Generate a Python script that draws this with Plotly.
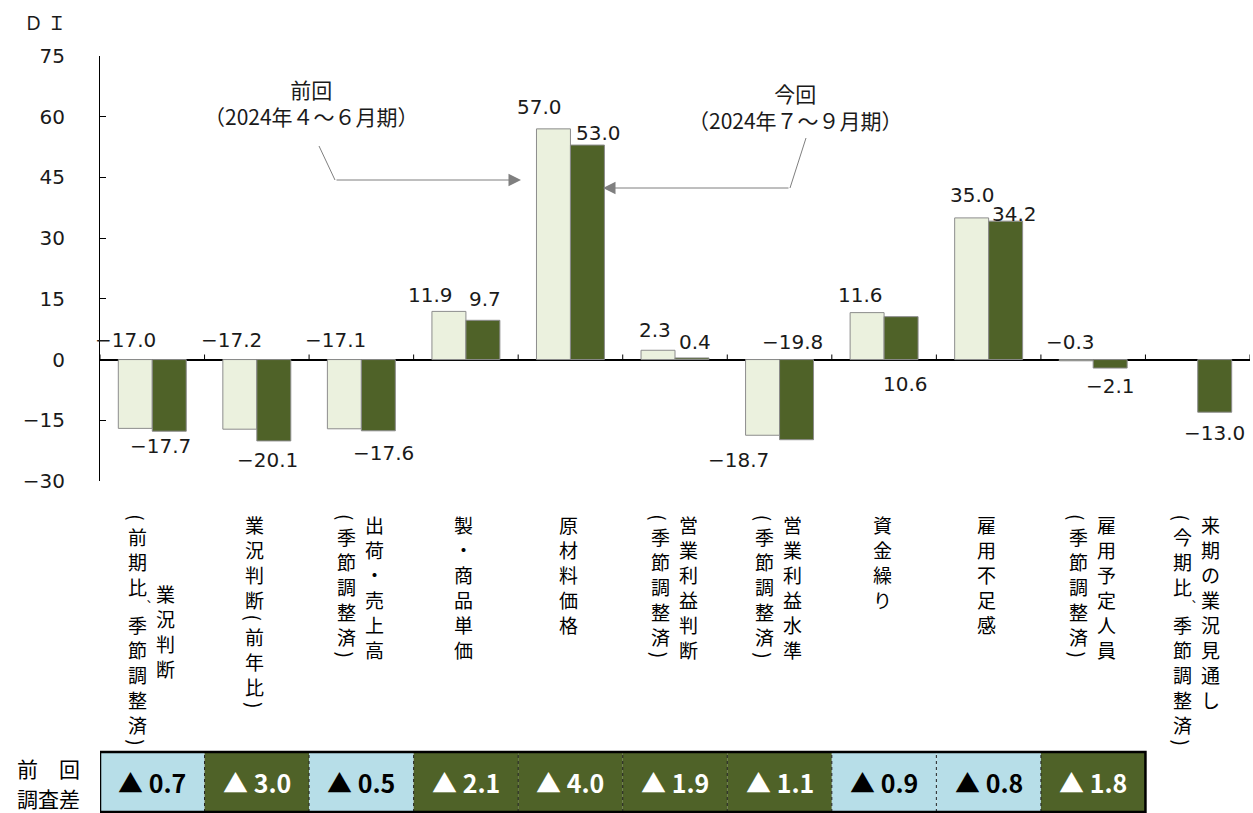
import plotly.graph_objects as go

# ---- data -------------------------------------------------------------
# "\n" separates the vertical columns of each category label (right column first)
CATEGORIES = [
    "業況判断\n（前期比、季節調整済）",
    "業況判断（前年比）",
    "出荷・売上高\n（季節調整済）",
    "製・商品単価",
    "原材料価格",
    "営業利益判断\n（季節調整済）",
    "営業利益水準\n（季節調整済）",
    "資金繰り",
    "雇用不足感",
    "雇用予定人員\n（季節調整済）",
    "来期の業況見通し\n（今期比、季節調整済）",
]
PREV_DI = [-17.0, -17.2, -17.1, 11.9, 57.0, 2.3, -18.7, 11.6, 35.0, -0.3, None]
CURR_DI = [-17.7, -20.1, -17.6, 9.7, 53.0, 0.4, -19.8, 10.6, 34.2, -2.1, -13.0]
DIFF_FROM_PREV = [-0.7, -3.0, -0.5, -2.1, -4.0, -1.9, -1.1, -0.9, -0.8, -1.8]
PREV_TITLE = ["前回", "（2024年４～６月期）"]
CURR_TITLE = ["今回", "（2024年７～９月期）"]
Y_TICKS = [-30, -15, 0, 15, 30, 45, 60, 75]
Y_TITLE = "Ｄ Ｉ"
TABLE_TITLE = ["前　回", "調査差"]

# ---- styling ----------------------------------------------------------
FONT = "Noto Sans CJK JP"
NUM_FONT = "DejaVu Sans"
PREV_COLOR = "#ebf1de"
CURR_COLOR = "#4f6228"
EDGE_COLOR = "#8c8c8c"
LIGHT_CELL = "#b7dee8"
TEXT = "#1a1a1a"

# plot area in pixels
L, T, W, H = 100, 56, 1150, 425


def px(x):
    return (x - L) / W


def py(y):
    return (T + H - y) / H


keys = [c.replace("\n", "") for c in CATEGORIES]

# value label placement: (anchor, x offset px, y offset px downward)
PREV_LABEL_POS = [("zero", -27, -20), ("zero", -25, -20), ("zero", -26, -20),
                  ("end", -35, -16), ("end", -31, -22), ("end", -20, -20),
                  ("end", -41, 25), ("end", -24, -18), ("end", -16, -23),
                  ("zero", -23, -18), None]
CURR_LABEL_POS = [("end", 8, 15), ("end", 11, 19), ("end", 22, 22),
                  ("end", 19, -21), ("end", 28, -12), ("end", 20, -16),
                  ("zero", 13, -18), ("zero", 21, 24), ("end", 26, -7),
                  ("end", 17, 18), ("end", 17, 21)]
CAT_LABEL_VALIGN = ["middle"] + ["top"] * 10

fig = go.Figure()
fig.add_trace(go.Bar(x=keys, y=PREV_DI, name="".join(PREV_TITLE),
                     marker=dict(color=PREV_COLOR, line=dict(color=EDGE_COLOR, width=1)),
                     hoverinfo="skip"))
fig.add_trace(go.Bar(x=keys, y=CURR_DI, name="".join(CURR_TITLE),
                     marker=dict(color=CURR_COLOR, line=dict(color=EDGE_COLOR, width=1)),
                     hoverinfo="skip"))

annotations = []
shapes = []


def fmt(v):
    return f"{v:.1f}".replace("-", "−")


# value labels
for vals, poss in ((PREV_DI, PREV_LABEL_POS), (CURR_DI, CURR_LABEL_POS)):
    for k, v, pos in zip(keys, vals, poss):
        if v is None or pos is None:
            continue
        anchor, dx, dy = pos
        annotations.append(dict(
            x=k, y=v if anchor == "end" else 0, xref="x", yref="y",
            text=fmt(v), showarrow=False, xanchor="center", yanchor="middle",
            xshift=dx, yshift=-dy, font=dict(family=NUM_FONT, size=20, color=TEXT)))

# boundary ticks on the zero line
for i in range(len(keys) + 1):
    shapes.append(dict(type="line", xref="x", yref="y", x0=i - 0.5, x1=i - 0.5,
                       y0=0, y1=1.25, line=dict(color="black", width=1)))

# vertical category labels, set one glyph at a time
STEP = 25
HALF = {"（", "）", "、"}


def column_layout(col):
    cells, y = [], 0.0
    for ch in col:
        h = STEP / 2 if ch in HALF else STEP
        cells.append((ch, y + h / 2))
        y += h
    return cells, y


def glyph_annotation(k, ch, ypix, xshift):
    base = dict(x=k, xref="x", yref="paper", y=py(ypix), yanchor="middle",
                xanchor="center", xshift=xshift, showarrow=False, borderpad=0,
                font=dict(family=FONT, size=19, color="black"))
    if ch in "（）":
        # bracket turned for vertical setting
        base.update(text="(" if ch == "（" else ")", textangle=90)
    elif ch == "、":
        base.update(text="︑", xshift=xshift + 8,
                    font=dict(family=FONT, size=11, color="black"))
    else:
        base.update(text=ch, height=24)
    return base


for k, cat, valign in zip(keys, CATEGORIES, CAT_LABEL_VALIGN):
    cols = cat.split("\n")
    shifts = [-2] if len(cols) == 1 else [13, -15]
    for col, sh in zip(cols, shifts):
        cells, total = column_layout(col)
        top = 630 - total / 2 if valign == "middle" else 511
        for ch, yc in cells:
            annotations.append(glyph_annotation(k, ch, top + yc, sh))

# difference table under the chart
tb_top, tb_bot = py(752), py(812)
for i, (k, d) in enumerate(zip(keys, DIFF_FROM_PREV)):
    small = abs(d) < 1
    shapes.append(dict(type="rect", xref="x", yref="paper", x0=i - 0.5, x1=i + 0.5,
                       y0=tb_bot, y1=tb_top, fillcolor=LIGHT_CELL if small else CURR_COLOR,
                       line=dict(width=0), layer="above"))
    annotations.append(dict(
        x=k, xref="x", yref="paper", y=(tb_top + tb_bot) / 2, yanchor="middle",
        xanchor="center", text=f"<b>▲ {abs(d):.1f}</b>", showarrow=False,
        font=dict(family=FONT, size=25, color="black" if small else "white")))
n_cells = len(DIFF_FROM_PREV)
for i in range(1, n_cells):
    shapes.append(dict(type="line", xref="x", yref="paper", x0=i - 0.5, x1=i - 0.5,
                       y0=tb_bot, y1=tb_top, line=dict(color="#222", width=1, dash="dot"),
                       layer="above"))
shapes.append(dict(type="rect", xref="x", yref="paper", x0=-0.5, x1=n_cells - 0.5,
                   y0=tb_bot, y1=tb_top, line=dict(color="black", width=2.5),
                   fillcolor="rgba(0,0,0,0)", layer="above"))
for txt, yc in zip(TABLE_TITLE, (767.5, 797.5)):
    annotations.append(dict(x=px(48), y=py(yc), xref="paper", yref="paper",
                            text=txt, showarrow=False, xanchor="center", yanchor="middle",
                            borderpad=0, font=dict(family=FONT, size=21, color="black")))

# callouts pointing at the 原材料価格 bars
GREY = "#7f7f7f"
annotations.append(dict(x=px(311), y=py(102), xref="paper", yref="paper",
                        text="<br>".join(PREV_TITLE), showarrow=False,
                        xanchor="center", yanchor="middle",
                        font=dict(family=FONT, size=21, color=TEXT)))
annotations.append(dict(x=px(795), y=py(106), xref="paper", yref="paper",
                        text="<br>".join(CURR_TITLE), showarrow=False,
                        xanchor="center", yanchor="middle",
                        font=dict(family=FONT, size=21, color=TEXT)))
shapes.append(dict(type="line", xref="paper", yref="paper",
                   x0=px(319), y0=py(146), x1=px(335), y1=py(180),
                   line=dict(color=GREY, width=1)))
shapes.append(dict(type="line", xref="paper", yref="paper",
                   x0=px(806), y0=py(138), x1=px(790), y1=py(188),
                   line=dict(color=GREY, width=1)))
annotations.append(dict(x=px(521), y=py(180), xref="paper", yref="paper",
                        ax=-186, ay=0, text="", showarrow=True, arrowhead=2,
                        arrowsize=2.5, arrowwidth=1, arrowcolor=GREY))
annotations.append(dict(x=px(603), y=py(188), xref="paper", yref="paper",
                        ax=187, ay=0, text="", showarrow=True, arrowhead=2,
                        arrowsize=2.5, arrowwidth=1, arrowcolor=GREY))

# axis title
annotations.append(dict(x=px(22), y=py(22), xref="paper", yref="paper",
                        text=Y_TITLE, showarrow=False, xanchor="left", yanchor="middle",
                        font=dict(family=FONT, size=19, color=TEXT)))

fig.update_layout(
    width=1253, height=813,
    margin=dict(l=L, r=1253 - L - W, t=T, b=813 - T - H),
    paper_bgcolor="white", plot_bgcolor="white",
    barmode="group", bargap=0.35, bargroupgap=0,
    showlegend=False,
    annotations=annotations, shapes=shapes,
    xaxis=dict(type="category", range=[-0.5, len(keys) - 0.5], showticklabels=False,
               showline=False, showgrid=False, zeroline=False, ticks=""),
    yaxis=dict(range=[-30, 75], tickvals=Y_TICKS, showgrid=False,
               showline=True, linecolor="black", linewidth=1,
               ticks="inside", ticklen=6, tickcolor="black",
               zeroline=True, zerolinecolor="black", zerolinewidth=1.5,
               ticklabelstandoff=30,
               tickfont=dict(family=NUM_FONT, size=20, color=TEXT)),
)

fig.write_html("out.html")
